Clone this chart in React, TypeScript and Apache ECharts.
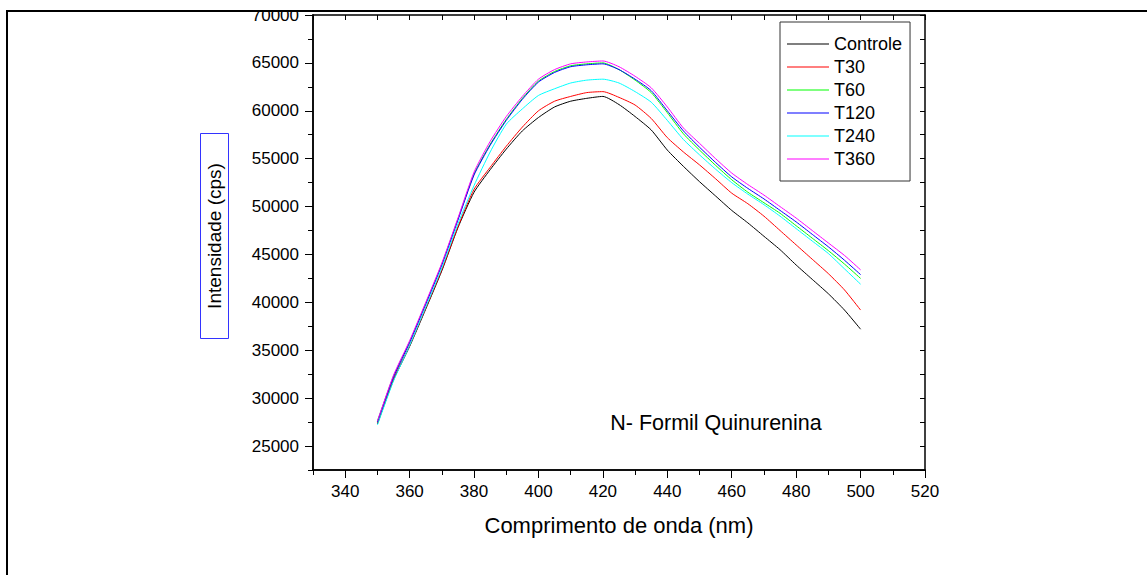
import React, { useEffect, useRef } from "react";
import * as echarts from "echarts";

const wavelengths = [350, 355, 360, 365, 370, 375, 380, 385, 390, 395, 400, 405, 410, 415, 420, 425, 430, 435, 440, 445, 450, 455, 460, 465, 470, 475, 480, 485, 490, 495, 500];

const controle = [27300, 31900, 35400, 39300, 43300, 47800, 51500, 53850, 56000, 57900, 59300, 60400, 61000, 61300, 61500, 60650, 59400, 58000, 55900, 54200, 52600, 51100, 49600, 48300, 46900, 45500, 43900, 42400, 40900, 39200, 37200];
const t30 = [27400, 32000, 35500, 39400, 43400, 47900, 51800, 54100, 56300, 58300, 60000, 61000, 61500, 61900, 62000, 61400, 60600, 59200, 57200, 55700, 54350, 52900, 51400, 50300, 49000, 47500, 46000, 44500, 43000, 41300, 39200];
const t60 = [27600, 32300, 35900, 39900, 44000, 48700, 53400, 56500, 59100, 61300, 63100, 64100, 64700, 64900, 65000, 64300, 63200, 61900, 59800, 57600, 55900, 54300, 52800, 51500, 50400, 49300, 48000, 46700, 45400, 44000, 42500];
const t120 = [27500, 32200, 35800, 39800, 43900, 48600, 53300, 56400, 59000, 61200, 63000, 64000, 64600, 64800, 64900, 64300, 63300, 62100, 60000, 57900, 56200, 54600, 53100, 51900, 50800, 49600, 48400, 47100, 45800, 44400, 42900];
const t240 = [27200, 31800, 35500, 39500, 43600, 48200, 52200, 55700, 58600, 60200, 61600, 62300, 62900, 63200, 63300, 62900, 62000, 60900, 59000, 57000, 55400, 53900, 52500, 51300, 50200, 49000, 47700, 46400, 45100, 43500, 41900];
const t360 = [27600, 32400, 36000, 40000, 44100, 48800, 53600, 56800, 59400, 61500, 63300, 64300, 64900, 65100, 65200, 64600, 63600, 62400, 60400, 58200, 56600, 55000, 53500, 52300, 51200, 50000, 48800, 47500, 46200, 44900, 43400];

const seriesNames = ["Controle", "T30", "T60", "T120", "T240", "T360"];
const seriesColors = ["#000000", "#ff0000", "#00ff00", "#0000ff", "#00ffff", "#ff00ff"];
const seriesValues = [controle, t30, t60, t120, t240, t360];

const xMajorTicks = [340, 360, 380, 400, 420, 440, 460, 480, 500, 520];
const xMinorTicks = [330, 350, 370, 390, 410, 430, 450, 470, 490, 510];
const yMajorTicks = [25000, 30000, 35000, 40000, 45000, 50000, 55000, 60000, 65000, 70000];
const yMinorTicks = [22500, 27500, 32500, 37500, 42500, 47500, 52500, 57500, 62500, 67500];
const xAllTicks = [330, 340, 350, 360, 370, 380, 390, 400, 410, 420, 430, 440, 450, 460, 470, 480, 490, 500, 510, 520];
const yAllTicks = [22500, 25000, 27500, 30000, 32500, 35000, 37500, 40000, 42500, 45000, 47500, 50000, 52500, 55000, 57500, 60000, 62500, 65000, 67500, 70000];

const FONT = "Arial, 'Liberation Sans', sans-serif";

export default function App() {
  const ref = useRef<HTMLDivElement>(null);
  useEffect(() => {
    if (!ref.current) return;
    const chart = echarts.init(ref.current, null, { renderer: "svg" });
    const axisLine = { show: true, lineStyle: { color: "#000", width: 1.5 } };
    const xBase = { type: "value", min: 330, max: 520, splitLine: { show: false }, axisLine };
    const yBase = { type: "value", min: 22500, max: 70000, splitLine: { show: false }, axisLine };
    const option: any = {
      animation: false,
      backgroundColor: "#fff",
      grid: { left: 313, top: 15, right: 222, bottom: 105, containLabel: false },
      xAxis: [
        {
          ...xBase,
          position: "bottom",
          name: "Comprimento de onda (nm)",
          nameLocation: "middle",
          nameGap: 44,
          nameTextStyle: { fontFamily: FONT, fontSize: 22, color: "#000" },
          axisTick: { show: true, inside: false, length: 8, lineStyle: { color: "#000", width: 1 }, customValues: xMajorTicks },
          axisLabel: { show: true, margin: 13, fontFamily: FONT, fontSize: 17, color: "#000", customValues: xMajorTicks, formatter: (v: number) => String(v) },
        },
        {
          ...xBase,
          position: "bottom",
          axisTick: { show: true, inside: false, length: 5, lineStyle: { color: "#000", width: 1 }, customValues: xMinorTicks },
          axisLabel: { show: false },
        },
        {
          ...xBase,
          position: "top",
          axisTick: { show: true, inside: true, length: 5, lineStyle: { color: "#000", width: 1 }, customValues: xAllTicks },
          axisLabel: { show: false },
        },
      ],
      yAxis: [
        {
          ...yBase,
          position: "left",
          axisTick: { show: true, inside: false, length: 8, lineStyle: { color: "#000", width: 1 }, customValues: yMajorTicks },
          axisLabel: { show: true, margin: 14, fontFamily: FONT, fontSize: 17, color: "#000", customValues: yMajorTicks, formatter: (v: number) => String(v) },
        },
        {
          ...yBase,
          position: "left",
          axisTick: { show: true, inside: false, length: 5, lineStyle: { color: "#000", width: 1 }, customValues: yMinorTicks },
          axisLabel: { show: false },
        },
        {
          ...yBase,
          position: "right",
          axisTick: { show: true, inside: true, length: 5, lineStyle: { color: "#000", width: 1 }, customValues: yAllTicks },
          axisLabel: { show: false },
        },
      ],
      legend: {
        orient: "vertical",
        left: 780,
        top: 22,
        padding: [13, 8, 13, 7],
        itemGap: 5,
        itemWidth: 42,
        itemHeight: 18,
        borderColor: "#333",
        borderWidth: 1,
        backgroundColor: "#fff",
        data: seriesNames.map((name) => ({ name, icon: "path://M0,9 L42,9 L42,10 L0,10 Z" })),
        textStyle: { fontFamily: FONT, fontSize: 18, color: "#000" },
      },
      series: seriesNames.map((name, i) => ({
        name,
        type: "line",
        xAxisIndex: 0,
        yAxisIndex: 0,
        symbol: "none",
        smooth: 0.2,
        color: seriesColors[i],
        lineStyle: { color: seriesColors[i], width: 1 },
        data: wavelengths.map((w, j) => [w, seriesValues[i][j]]),
      })),
      graphic: [
        { type: "rect", z: 100, shape: { x: 0, y: 0, width: 1147, height: 10 }, style: { fill: "#fff" } },
        { type: "line", z: 101, shape: { x1: 6, y1: 11, x2: 1147, y2: 11 }, style: { stroke: "#000", lineWidth: 2 } },
        { type: "line", z: 101, shape: { x1: 7, y1: 10, x2: 7, y2: 575 }, style: { stroke: "#000", lineWidth: 2 } },
        { type: "rect", z: 50, shape: { x: 200.5, y: 133.5, width: 28, height: 205 }, style: { fill: "#fff", stroke: "#3333ff", lineWidth: 1 } },
        {
          type: "text",
          z: 51,
          x: 214,
          y: 236,
          rotation: Math.PI / 2,
          style: { text: "Intensidade (cps)", fontFamily: FONT, fontSize: 19, fill: "#000", align: "center", verticalAlign: "middle" },
        },
        {
          type: "text",
          z: 51,
          x: 716,
          y: 423,
          style: { text: "N- Formil Quinurenina", fontFamily: FONT, fontSize: 21.5, fill: "#000", align: "center", verticalAlign: "middle" },
        },
      ],
    };
    chart.setOption(option);
    return () => chart.dispose();
  }, []);
  return <div ref={ref} style={{ width: 1147, height: 575, position: "absolute", left: 0, top: 0 }} />;
}
